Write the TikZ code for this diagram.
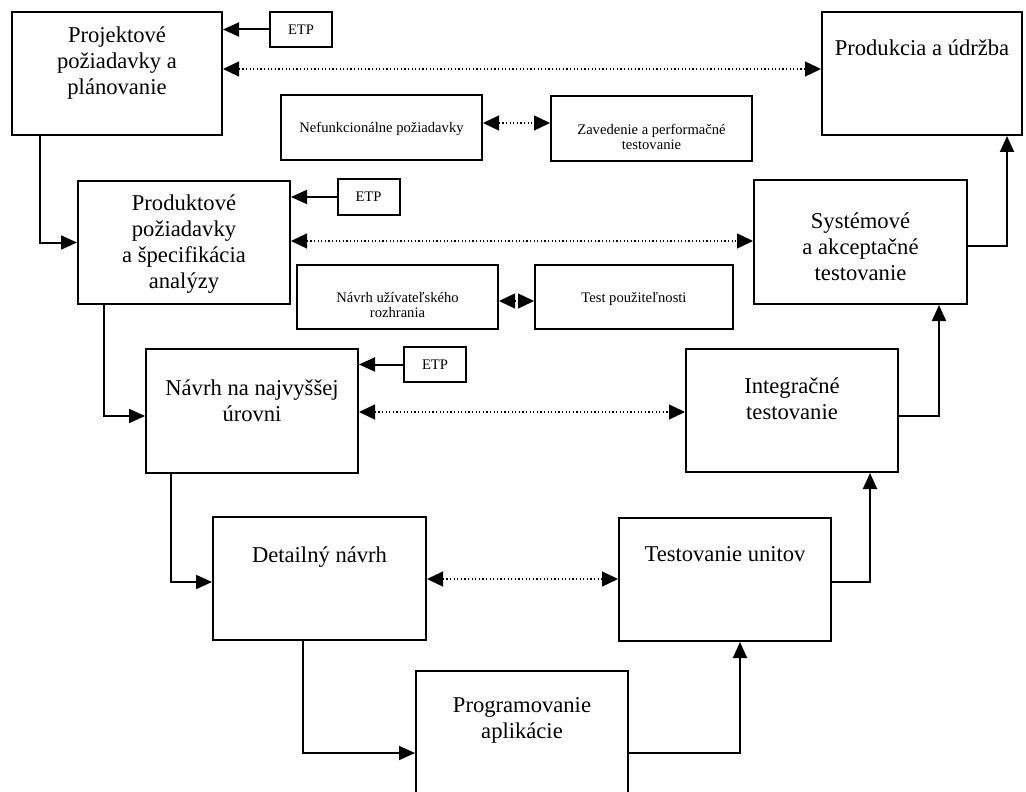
\documentclass[tikz,border=0pt]{standalone}
\usepackage{fontspec}
\setmainfont{Liberation Serif}
\usetikzlibrary{arrows.meta,calc}
\tikzset{
  box/.style={draw, line width=1pt, inner sep=0pt},
  etpbox/.style={draw, line width=1pt, inner sep=0pt, minimum width=31pt, minimum height=17.5pt, font=\fontsize{7.3pt}{7.5pt}\selectfont},
  bigtxt/.style={font=\fontsize{11.3pt}{13pt}\selectfont, align=center, anchor=north, inner sep=0pt},
  smalltxt/.style={font=\fontsize{7.3pt}{7.5pt}\selectfont, align=center, anchor=north, inner sep=0pt},
  conn/.style={line width=1pt, -{Triangle[length=8pt,width=7pt]}},
  dotconn/.style={line width=0.6pt, dash pattern=on 0.6pt off 1.2pt, {Triangle[length=8pt,width=7.5pt]}-{Triangle[length=8pt,width=7.5pt]}},
}
\begin{document}
\begin{tikzpicture}[x=0.5pt,y=-0.5pt]
\useasboundingbox[fill=white] (0,0) rectangle (1026,791);
% boxes
\node[box, minimum width=105pt, minimum height=61.5pt] (b1) at (117,73.5) {};
\node[box, minimum width=100pt, minimum height=61.5pt] (pr) at (922,73.5) {};
\node[box, minimum width=100.5pt, minimum height=32.5pt] (nf) at (381.5,127.5) {};
\node[box, minimum width=100.5pt, minimum height=32.5pt] (zv) at (651.5,128.5) {};
\node[box, minimum width=106pt, minimum height=61.5pt] (b2) at (184,242.5) {};
\node[box, minimum width=106.5pt, minimum height=62pt] (sy) at (860.5,242) {};
\node[box, minimum width=100.5pt, minimum height=32pt] (nu) at (397.5,297) {};
\node[box, minimum width=99pt, minimum height=32pt] (tp) at (634,297) {};
\node[box, minimum width=106pt, minimum height=62pt] (b3) at (252,411) {};
\node[box, minimum width=106pt, minimum height=61.5pt] (it) at (792,410.5) {};
\node[box, minimum width=106.5pt, minimum height=61.5pt] (dn) at (319.5,578.5) {};
\node[box, minimum width=106pt, minimum height=61.5pt] (tu) at (725,579.5) {};
\node[box, minimum width=106pt, minimum height=61.5pt] (pg) at (522,732) {};
\node[etpbox] (e1) at (301,29.5) {ETP};
\node[etpbox] (e2) at (368.5,197) {ETP};
\node[etpbox] (e3) at (435,364.5) {ETP};
% texts
\node[bigtxt] (t1) at ($(b1.north)+(0,15)$) {Projektové\\požiadavky a\\plánovanie};
\node[bigtxt] (tpr) at ($(pr.north)+(0,28)$) {Produkcia a údržba};
\node[smalltxt] (tnf) at ($(nf.north)+(0,28)$) {Nefunkcionálne požiadavky};
\node[smalltxt] (tzv) at ($(zv.north)+(0,29)$) {Zavedenie a performačné\\testovanie};
\node[bigtxt] (t2) at ($(b2.north)+(0,14)$) {Produktové\\požiadavky\\a špecifikácia\\analýzy};
\node[smalltxt] (tnu) at ($(nu.north)+(0,28)$) {Návrh užívateľského\\rozhrania};
\node[smalltxt] (ttp) at ($(tp.north)+(0,28)$) {Test použiteľnosti};
\node[bigtxt] (t3) at ($(b3.north)+(0,31)$) {Návrh na najvyššej\\úrovni};
\node[bigtxt] (tit) at ($(it.north)+(0,29)$) {Integračné\\testovanie};
\node[bigtxt] (tsy) at ($(sy.north)+(0,33)$) {Systémové\\a akceptačné\\testovanie};
\node[bigtxt] (tdn) at ($(dn.north)+(0,30)$) {Detailný návrh};
\node[bigtxt] (ttu) at ($(tu.north)+(0,29)$) {Testovanie unitov};
\node[bigtxt] (tpg) at ($(pg.north)+(0,28)$) {Programovanie\\aplikácie};
% ETP arrows
\draw[conn] (e1.west) -- (e1.west -| b1.east);
\draw[conn] (e2.west) -- (e2.west -| b2.east);
\draw[conn] (e3.west) -- (e3.west -| b3.east);
% dotted links
\coordinate (d1) at ($(b1.east)+(0,-4.5)$);
\draw[dotconn] (d1) -- (d1 -| pr.west);
\coordinate (d2) at ($(nf.east)+(0,-4.5)$);
\draw[dotconn] (d2) -- (d2 -| zv.west);
\coordinate (d3) at ($(b2.east)+(0,-1.5)$);
\draw[dotconn] (d3) -- (d3 -| sy.west);
\coordinate (d4) at ($(nu.east)+(0,4)$);
\draw[dotconn] (d4) -- (d4 -| tp.west);
\coordinate (d5) at ($(b3.east)+(0,1)$);
\draw[dotconn] (d5) -- (d5 -| it.west);
\coordinate (d6) at ($(dn.east)+(0,0.5)$);
\draw[dotconn] (d6) -- (d6 -| tu.west);
% left chain
\draw[conn] ($(b1.south west)+(29,0)$) |- (b2.west);
\draw[conn] ($(b2.south west)+(27,0)$) |- ($(b3.west)+(0,5)$);
\draw[conn] ($(b3.south west)+(26,0)$) |- ($(dn.west)+(0,3.5)$);
\draw[conn] ($(dn.south west)+(91,0)$) |- ($(pg.west)+(0,21)$);
% right chain
\draw[conn] ($(pg.east)+(0,21)$) -| ($(tu.south)+(15,0)$);
\draw[conn] ($(tu.east)+(0,2.5)$) -| ($(it.south)+(78,0)$);
\draw[conn] ($(it.east)+(0,5.5)$) -| ($(sy.south)+(78.5,0)$);
\draw[conn] ($(sy.east)+(0,4)$) -| ($(pr.south)+(85,0)$);
\end{tikzpicture}
\end{document}
